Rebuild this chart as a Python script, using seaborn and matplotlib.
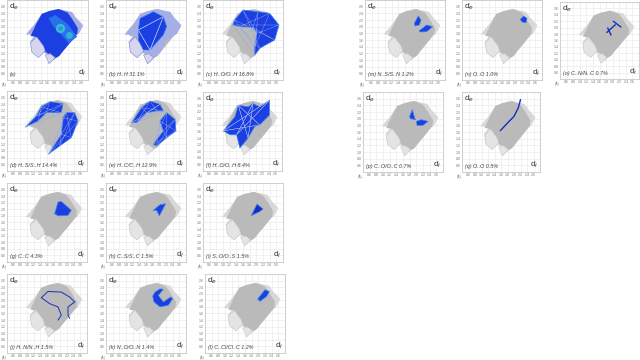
import matplotlib
matplotlib.use("Agg")
import matplotlib.pyplot as plt
import seaborn as sns

W, H = 640, 360

# silhouette of the full fingerprint, (d_i, d_e)
OUTER_DI = [0.96, 1.23, 1.43, 1.93, 2.33, 2.43, 2.66, 2.53, 2.23, 2.03, 1.63, 1.68, 1.48, 1.33, 1.13, 1.08, 1.23]
OUTER_DE = [1.77, 2.09, 2.39, 2.53, 2.44, 2.29, 2.04, 1.79, 1.59, 1.23, 0.88, 1.13, 1.23, 1.08, 1.28, 1.54, 1.74]
BODY_DI = [1.10, 1.25, 1.43, 1.65, 1.93, 2.20, 2.35, 2.50, 2.48, 2.30, 2.05, 1.95, 1.72, 1.68, 1.53, 1.48, 1.28]
BODY_DE = [1.72, 2.05, 2.38, 2.47, 2.53, 2.42, 2.20, 1.95, 1.78, 1.55, 1.25, 1.12, 0.98, 1.15, 1.25, 1.42, 1.69]
HOLE_A_DI = [1.10, 1.28, 1.48, 1.53, 1.33, 1.13]
HOLE_A_DE = [1.52, 1.69, 1.42, 1.27, 1.07, 1.24]
HOLE_B_DI = [1.53, 1.68, 1.83, 1.65]
HOLE_B_DE = [1.15, 1.19, 1.07, 0.89]

TICKS = [0.6, 0.8, 1.0, 1.2, 1.4, 1.6, 1.8, 2.0, 2.2, 2.4, 2.6]

LABELS = ["(a)", "(b) H..H 31.1%", "(c) H..O/O..H 16.8%",
          "(d) H..S/S..H 14.4%", "(e) H..C/C..H 12.9%", "(f) H..O/O..H 8.4%",
          "(g) C..C 4.3%", "(h) C..S/S..C 1.5%", "(i) S..O/O..S 1.5%",
          "(j) H..N/N..H 1.5%", "(k) N..O/O..N 1.4%", "(l) C..Cl/Cl..C 1.2%",
          "(m) N..S/S..N 1.2%", "(n) O..O 1.0%", "(o) C..N/N..C 0.7%",
          "(p) C..O/O..C 0.7%", "(q) O..O 0.5%"]

# panel boxes in pixels: left, top, right, bottom
BOXES = [(7, 0, 88, 80), (106, 0, 186, 80), (203, 0, 283, 80),
         (7, 91, 87, 171), (106, 91, 186, 171), (203, 92, 282, 171),
         (7, 183, 87, 262), (106, 183, 186, 262), (203, 183, 283, 262),
         (7, 274, 87, 353), (106, 274, 186, 353), (205, 274, 285, 353),
         (365, 0, 445, 80), (462, 0, 542, 80), (560, 2, 639, 79),
         (363, 92, 443, 172), (462, 92, 540, 172)]

# blue regions, one list of (d_i, d_e) outlines per panel
B_CORE = [(1.37, 1.90), (1.42, 2.25), (1.82, 2.45), (2.12, 2.30), (2.22, 2.00),
          (2.12, 1.75), (1.72, 1.30), (1.52, 1.30), (1.37, 1.60)]
C_BAND = [(1.30, 2.05), (1.35, 2.20), (1.60, 2.50), (2.05, 2.45), (2.40, 2.40), (2.68, 2.05),
          (2.55, 1.60), (2.10, 1.35), (1.95, 1.15), (1.95, 1.40), (2.02, 1.80), (1.90, 1.98), (1.50, 2.00)]
D_UP = [(0.96, 1.72), (1.28, 2.05), (1.43, 2.32), (1.68, 2.48), (2.08, 2.42), (2.03, 2.15), (1.58, 2.15), (1.33, 1.90)]
D_LOW = [(1.66, 0.92), (2.03, 1.50), (2.08, 2.00), (2.18, 2.15), (2.43, 2.15), (2.53, 1.90), (2.33, 1.40), (1.98, 1.15)]
E_UP = [(1.17, 1.85), (1.47, 2.30), (1.72, 2.50), (2.02, 2.40), (2.12, 2.20), (1.92, 2.20), (1.62, 2.15), (1.32, 1.85)]
E_LOW = [(1.82, 1.20), (2.12, 1.60), (2.02, 1.90), (2.22, 2.15), (2.47, 1.95), (2.50, 1.60), (2.22, 1.40), (1.92, 1.15)]
F_STAR = [(1.02, 1.62), (1.37, 2.05), (1.47, 2.40), (1.77, 2.35), (1.92, 2.45), (2.12, 2.35), (2.42, 2.55),
          (2.42, 2.10), (2.12, 1.80), (1.97, 1.75), (1.77, 1.40), (1.52, 1.10), (1.42, 1.50), (1.22, 1.50)]
G_BLOB = [(1.83, 1.87), (1.93, 2.22), (2.03, 2.24), (2.33, 1.97), (2.23, 1.82), (1.93, 1.80)]
H_BLOB = [(1.82, 1.97), (2.02, 2.14), (2.19, 2.17), (2.00, 1.80), (1.92, 1.97)]
I_BLOB = [(1.85, 1.81), (2.02, 2.16), (2.20, 2.01), (2.10, 1.93)]
K_ARC = [(1.87, 2.25), (2.02, 2.35), (2.12, 2.33), (1.97, 2.15), (2.12, 1.95), (2.34, 2.10),
         (2.40, 2.05), (2.27, 1.85), (2.02, 1.80), (1.84, 1.95), (1.80, 2.13)]
L_BLOB = [(1.98, 2.04), (2.20, 2.32), (2.33, 2.27), (2.25, 2.12), (2.05, 1.97)]
M_BLOB1 = [(1.88, 2.10), (2.00, 2.32), (2.08, 2.20), (2.03, 2.05), (1.90, 2.02)]
M_BLOB2 = [(2.03, 1.88), (2.25, 2.05), (2.43, 2.00), (2.25, 1.85), (2.05, 1.84)]
N_BLOB = [(2.15, 2.22), (2.25, 2.32), (2.35, 2.25), (2.32, 2.12), (2.20, 2.14)]
P_BLOB1 = [(1.80, 2.07), (1.88, 2.27), (1.95, 2.02), (1.98, 1.97), (1.82, 2.00)]
P_BLOB2 = [(2.00, 1.92), (2.15, 1.97), (2.35, 1.92), (2.20, 1.80), (2.02, 1.80)]

# thin traces: panels j, o, q
J_LINE1 = [(1.43, 2.08), (1.63, 2.27), (2.03, 2.25), (2.28, 2.10), (2.43, 1.95)]
J_LINE2 = [(1.43, 2.08), (1.68, 1.90), (1.93, 1.80), (2.03, 1.55), (1.93, 1.40)]
J_LINE3 = [(2.43, 1.95), (2.23, 1.80), (2.23, 1.55), (2.28, 1.45)]
O_LINE1 = [(1.82, 1.85), (2.08, 2.09)]
O_LINE2 = [(1.85, 1.99), (1.95, 1.77)]
O_LINE3 = [(2.02, 2.20), (2.25, 2.02)]
Q_LINE = [(1.58, 1.64), (1.80, 1.87), (2.00, 2.07), (2.13, 2.32), (2.20, 2.57)]
Q_DOT = [(2.35, 2.07)]

# panel a extras
A_BAND = [(1.63, 2.25), (1.83, 2.35), (2.18, 2.10), (2.48, 1.70), (2.23, 1.50), (1.98, 1.80), (1.78, 2.00)]
A_RING = [(1.98, 1.95)]
A_TEAL = [(2.25, 1.75)]

BLUE = "#1c3fe2"
DARK = "#1430c0"
LIGHT = "#3f86ee"
LAVENDER = "#a6aee6"
HOLE_TINT = "#d6d6ee"

BLOBS = {2: [C_BAND], 3: [D_UP, D_LOW], 4: [E_UP, E_LOW], 5: [F_STAR], 6: [G_BLOB], 7: [H_BLOB],
         8: [I_BLOB], 10: [K_ARC], 11: [L_BLOB], 12: [M_BLOB1, M_BLOB2], 13: [N_BLOB],
         15: [P_BLOB1, P_BLOB2]}
TRACES = {9: [J_LINE1, J_LINE2, J_LINE3], 14: [O_LINE1, O_LINE2, O_LINE3], 16: [Q_LINE]}
MESHED = [1, 2, 3, 4, 5]


def trace(ax, pts, color, lw, closed=False):
    xs = [p[0] for p in pts]
    ys = [p[1] for p in pts]
    if closed:
        xs = xs + xs[:1]
        ys = ys + ys[:1]
    sns.lineplot(x=xs, y=ys, sort=False, estimator=None, color=color, lw=lw, ax=ax, legend=False, zorder=4)


def patch(ax, pts, color, mesh=False):
    ax.fill([p[0] for p in pts], [p[1] for p in pts], color=color, lw=0, zorder=3)
    trace(ax, pts, LIGHT, 0.5, closed=True)
    if mesh:
        # criss-cross the outline so big regions do not look flat
        n = len(pts)
        star = [pts[(j * (n // 2 - 1)) % n] for j in range(n + 1)]
        trace(ax, star, "#8fa4f0", 0.3)


def draw_base(ax, colored=False):
    outer = "#d8d8d8"
    body = "#bababa"
    hole = "#e4e4e4"
    edge = "#c8c8c8"
    if colored:
        outer, body, hole, edge = LAVENDER, BLUE, HOLE_TINT, "#8c8cd0"
    ax.fill(OUTER_DI, OUTER_DE, color=outer, lw=0, zorder=2)
    ax.fill(BODY_DI, BODY_DE, color=body, lw=0, zorder=2)
    for xs, ys in [(HOLE_A_DI, HOLE_A_DE), (HOLE_B_DI, HOLE_B_DE)]:
        ax.fill(xs, ys, facecolor=hole, edgecolor=edge, lw=0.4, zorder=2)


sns.set_theme(style="whitegrid", rc={"grid.color": "#e6e6e6", "grid.linewidth": 0.4})
plt.rcParams["font.family"] = ["Liberation Sans", "DejaVu Sans"]

fig = plt.figure(figsize=(W / 100, H / 100), dpi=100)

for i, (l, t, r, b) in enumerate(BOXES):
    ax = fig.add_axes([l / W, 1 - b / H, (r - l) / W, (b - t) / H])
    draw_base(ax, colored=i == 0)
    if i == 0:
        ax.fill([p[0] for p in A_BAND], [p[1] for p in A_BAND], color="#2a6fec", lw=0, zorder=3)
        sns.scatterplot(x=[A_RING[0][0]], y=[A_RING[0][1]], s=45, color="#2fc0c8", lw=0, ax=ax, legend=False, zorder=4)
        sns.scatterplot(x=[A_RING[0][0]], y=[A_RING[0][1]], s=10, color=LIGHT, lw=0, ax=ax, legend=False, zorder=5)
        sns.scatterplot(x=[A_TEAL[0][0]], y=[A_TEAL[0][1]], s=25, color="#2fb0d8", lw=0, ax=ax, legend=False, zorder=4)
    if i == 1:
        ax.fill(OUTER_DI, OUTER_DE, color=LAVENDER, lw=0, zorder=2)
        ax.fill(HOLE_A_DI, HOLE_A_DE, facecolor=HOLE_TINT, edgecolor="#8c8cd0", lw=0.4, zorder=2)
        ax.fill(HOLE_B_DI, HOLE_B_DE, facecolor=HOLE_TINT, edgecolor="#8c8cd0", lw=0.4, zorder=2)
        patch(ax, B_CORE, BLUE, mesh=True)
    for pts in BLOBS.get(i, []):
        patch(ax, pts, BLUE if i != 8 else DARK, mesh=i in MESHED)
    for pts in TRACES.get(i, []):
        trace(ax, pts, DARK, 1.0 if i != 9 else 0.7)
    if i == 16:
        sns.scatterplot(x=[Q_DOT[0][0]], y=[Q_DOT[0][1]], s=4, color=LIGHT, lw=0, ax=ax, legend=False)

    ax.set_xlim(0.4, 2.8)
    ax.set_ylim(0.4, 2.8)
    ax.set_xticks(TICKS)
    ax.set_yticks(TICKS)
    ax.tick_params(length=0, pad=1, labelsize=2.5, labelcolor="#777777")
    ax.set_axisbelow(True)
    ax.grid(True)
    for s in ax.spines.values():
        s.set_color("#c8c8c8")
        s.set_linewidth(0.6)
    ax.text(0.03, 0.985, "d$_e$", transform=ax.transAxes, ha="left", va="top", fontsize=6, color="#333333")
    ax.text(0.98, 0.02, "d$_i$", transform=ax.transAxes, ha="right", va="bottom", fontsize=6, color="#333333")
    ax.text(0.04, 0.035, LABELS[i], transform=ax.transAxes, ha="left", va="bottom", fontsize=3.9,
            style="italic", color="#444444")
    ax.text(-0.01, -0.035, "(Å)", transform=ax.transAxes, ha="right", va="top", fontsize=2.5, color="#777777")

fig.savefig("out.png", dpi=100)
